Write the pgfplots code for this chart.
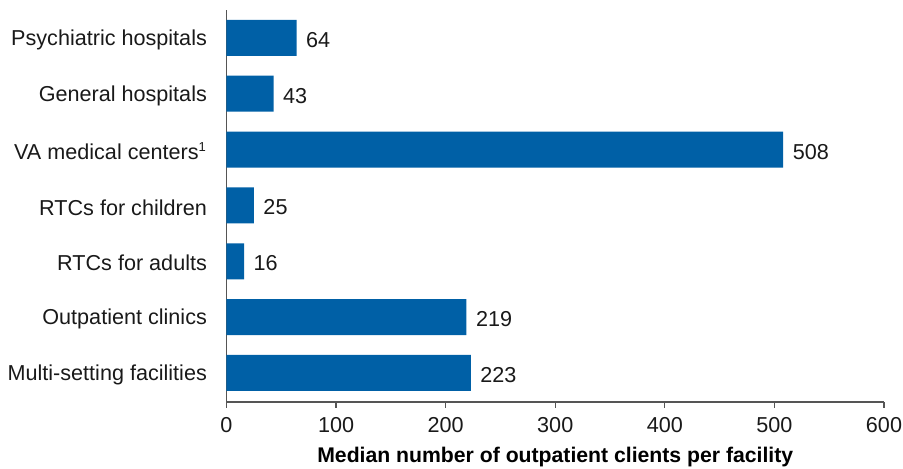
\documentclass[border=0pt]{standalone}
\usepackage{fontspec}
\setmainfont{Liberation Sans}
\usepackage{pgfplots}
\pgfplotsset{compat=1.18}
\definecolor{barblue}{RGB}{0,96,166}
\definecolor{axgray}{RGB}{85,85,85}
\begin{document}
\fontsize{10.8}{13}\selectfont
\begin{tikzpicture}
\begin{axis}[
  name=ax,
  scale only axis,
  width=328.75pt, height=196pt,
  xbar, bar width=18pt,
  xmin=0, xmax=600,
  ymin=-0.52, ymax=6.5,
  xtick={0,100,...,600},
  ytick={0,...,6},
  yticklabels={Multi-setting facilities,Outpatient clinics,RTCs for adults,RTCs for children,VA medical centers\textsuperscript{\fontsize{6.5}{7}\selectfont 1},General hospitals,Psychiatric hospitals},
  axis x line*=bottom, axis y line*=left,
  axis line style={axgray, line width=0.6pt, -},
  x tick style={axgray, line width=0.6pt},
  tick align=outside,
  major tick length=3pt,
  y tick style={draw=none},
  yticklabel style={font=\fontsize{10.8}{13}\selectfont, text=black!90, xshift=-3pt, yshift=-1pt},
  xticklabel style={font=\fontsize{10.8}{13}\selectfont, text=black!90, yshift=-1pt},
  /pgf/number format/assume math mode=true,
  xlabel={\textbf{Median number of outpatient clients per facility}},
  xlabel style={font=\fontsize{10.6}{12.5}\selectfont, yshift=0.5pt},
  nodes near coords,
  nodes near coords style={font=\fontsize{10.8}{13}\selectfont, text=black!90, xshift=1pt, yshift=-1pt},
  every node near coord/.append style={anchor=west},
  clip=false,
]
\addplot[fill=barblue, draw=none] coordinates {
(223,0) (219,1) (16,2) (25,3) (508,4) (43,5) (64,6)
};
\end{axis}
\pgfresetboundingbox
\path (ax.south west) ++(-113.25pt,-33.5pt) rectangle ++(451.5pt,234.5pt);
\end{tikzpicture}
\end{document}
